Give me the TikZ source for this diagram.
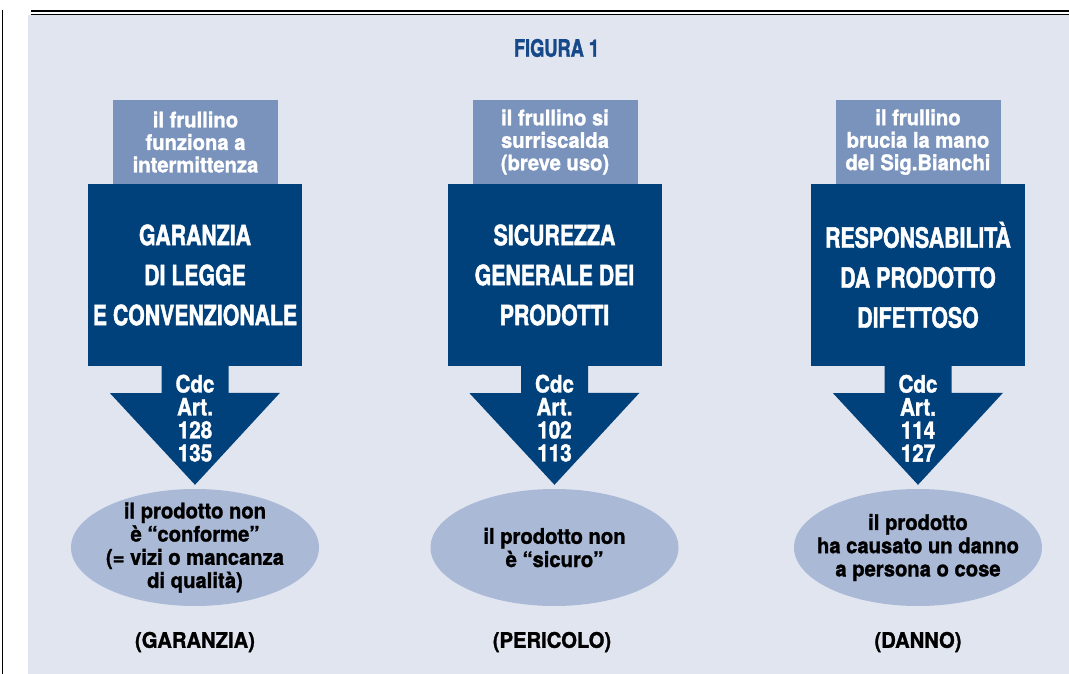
\documentclass[tikz,border=0pt]{standalone}
\usepackage{fontspec}
\setmainfont{TeX Gyre Heros}
\newfontfamily\narrowfont{TeX Gyre Heros}[FakeStretch=0.76,FakeBold=1.6]
\newfontfamily\midfont{TeX Gyre Heros}[FakeStretch=0.86,FakeBold=1.4]
\newfontfamily\plainfont{TeX Gyre Heros}[FakeStretch=0.94,FakeBold=1.3]
\usetikzlibrary{shapes.geometric,calc}
\definecolor{bgblue}{HTML}{E1E5F0}
\definecolor{midblue}{HTML}{7A93BC}
\definecolor{darkblue}{HTML}{00417B}
\definecolor{ovalblue}{HTML}{AAB9D6}
\definecolor{titleblue}{HTML}{16498A}

\begin{document}
\begin{tikzpicture}
[%%%%%%%%%%%%%%%%%%%%%%%%%%%%%%
x=1pt,y=-1pt,
evbox/.style={rectangle,fill=midblue,minimum width=165pt,minimum height=84pt,inner sep=0pt,align=center,text=white,font=\plainfont\bfseries\fontsize{21.5}{22.5}\selectfont},
lawbox/.style={rectangle,fill=darkblue,minimum width=214pt,minimum height=182pt,inner sep=0pt,align=center,text=white,font=\narrowfont\bfseries\fontsize{28}{40}\selectfont},
arttext/.style={align=center,text=white,inner sep=0pt,font=\midfont\bfseries\fontsize{24}{23}\selectfont},
oval/.style={ellipse,fill=ovalblue,minimum width=248pt,minimum height=117pt,inner sep=0pt},
ovaltext/.style={align=center,inner sep=0pt,font=\plainfont\bfseries\fontsize{21.5}{23.2}\selectfont},
tag/.style={inner sep=0pt,font=\plainfont\bfseries\fontsize{21.5}{22}\selectfont},
arrowfill/.style={fill=darkblue},
]%%%%%%%%%%%%%%%%%%%%%%%%%%%%%%

\useasboundingbox (0,0) rectangle (1069,674);
\fill[bgblue] (28,15) rectangle (1069,674);
\draw[line width=2.5pt] (31,11.2) -- (1069,11.2);
\draw[line width=1pt] (31,14.6) -- (1069,14.6);
\draw[line width=1pt] (2,10) -- (2,674);

\node[inner sep=0pt,text=titleblue,font=\narrowfont\bfseries\fontsize{24}{24}\selectfont] (fig) at (556.5,48) {FIGURA 1};

% column 1
\node[evbox] (ev1) at (195.5,142) {il frullino\\funziona a\\intermittenza};
\node[lawbox] (law1) at (195,275) {GARANZIA\\DI LEGGE\\E CONVENZIONALE};
\node[oval] (res1) at (195,547.5) {};
\node[ovaltext] at (res1) {il prodotto non\\è “conforme”\\(= vizi o mancanza\\di qualità)};
\node[tag] (tag1) at (195,642) {(GARANZIA)};

% column 2
\node[evbox] (ev2) at (555,142) {il frullino si\\surriscalda\\(breve uso)};
\node[lawbox] (law2) at (554.5,275) {SICUREZZA\\GENERALE DEI\\PRODOTTI};
\node[oval] (res2) at (554.5,547.5) {};
\node[ovaltext] at (res2) {il prodotto non\\è “sicuro”};
\node[tag] (tag2) at (552,642) {(PERICOLO)};

% column 3
\node[evbox] (ev3) at (918,142) {il frullino\\brucia la mano\\del Sig.Bianchi};
\node[lawbox] (law3) at (918,275) {RESPONSABILITÀ\\DA PRODOTTO\\DIFETTOSO};
\node[oval] (res3) at (918,547.5) {};
\node[ovaltext] at (res3) {il prodotto\\ha causato un danno\\a persona o cose};
\node[tag] (tag3) at (918,642) {(DANNO)};

% arrows
\foreach \i/\a/\b in {1/128/135,2/102/113,3/114/127}{
\fill[arrowfill] ($(law\i.south)+(-33.5,0)$) -- ++(0,27) -- ++(-51.5,0)
  -- ($(res\i.north)+(0,-4)$) -- ++(85,-92) -- ++(-51.5,0) -- ++(0,-27) -- cycle;
\node[arttext] (art\i) at ($(law\i.south)+(0,52)$) {Cdc\\Art.\\\a\\\b};
}
\end{tikzpicture}
\end{document}
